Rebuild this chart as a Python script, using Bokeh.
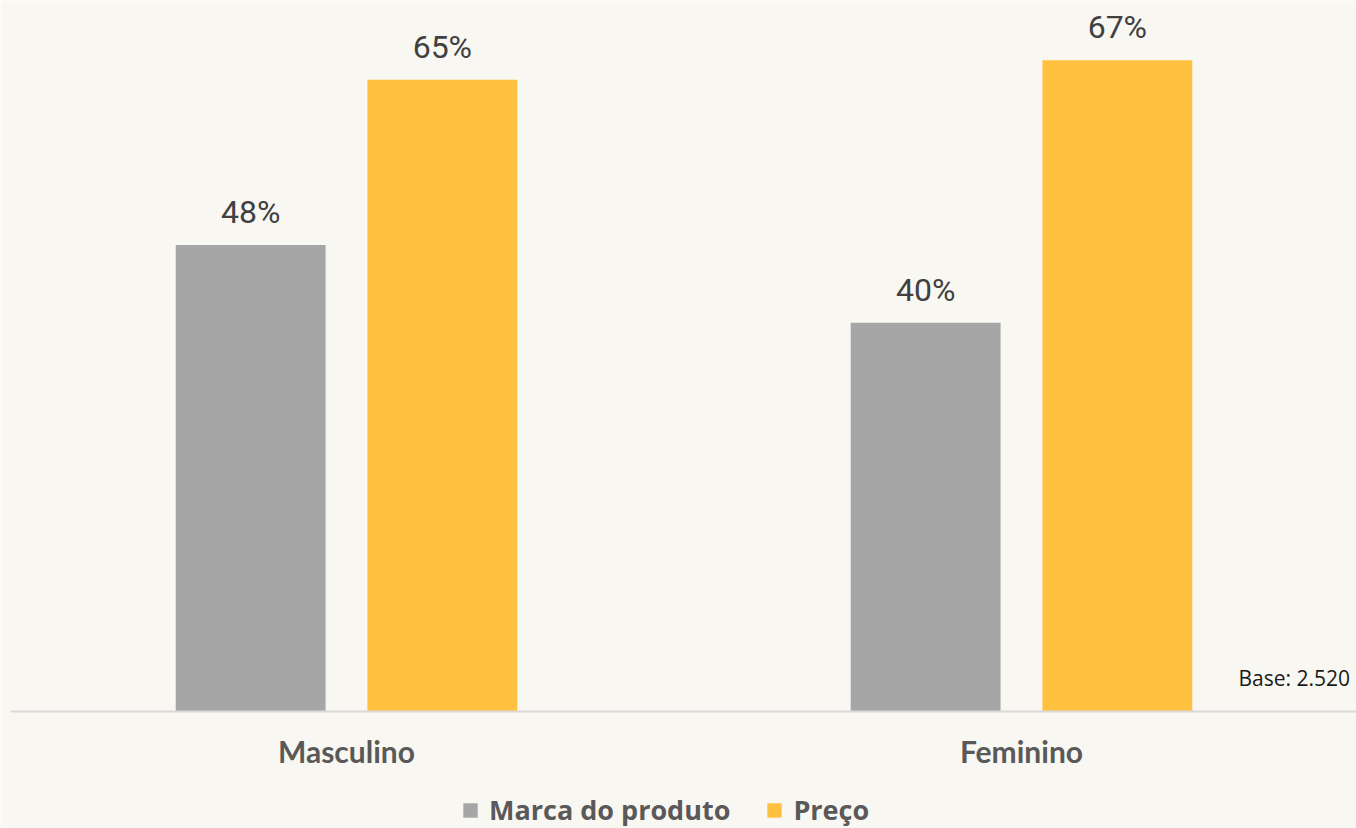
from bokeh.plotting import figure
from bokeh.models import (Range1d, FixedTicker, Legend, LegendItem, Label, ColumnDataSource)
from bokeh.transform import dodge
from bokeh.core.properties import value
from bokeh.embed import file_html
from bokeh.resources import INLINE

categories = ["Masculino", "Feminino"]
marca = [48, 40]
preco = [65, 67]
base_note = "Base: 2.520"

BG = "#F9F7F2"
GREY = "#A6A6A6"
YELLOW = "#FFC13F"

xs = list(range(len(categories)))
src = ColumnDataSource(dict(
    x=xs, marca=marca, preco=preco,
    marca_lbl=[f"{v}%" for v in marca],
    preco_lbl=[f"{v}%" for v in preco],
))

p = figure(width=1356, height=828, output_backend="svg", toolbar_location=None,
           x_range=Range1d(-0.5126, 1.4963), y_range=Range1d(-12.04, 73.15),
           min_border_left=0, min_border_right=0, min_border_top=0, min_border_bottom=0)
p.background_fill_color = BG
p.border_fill_color = BG
p.outline_line_color = None
p.grid.visible = False
p.yaxis.visible = False

off = 0.142
w = 0.222
r1 = p.vbar(x=dodge("x", -off), top="marca", width=w, source=src,
            fill_color=GREY, line_color=None)
r2 = p.vbar(x=dodge("x", off), top="preco", width=w, source=src,
            fill_color=YELLOW, line_color=None)

for col, lbl in (("marca", "marca_lbl"), ("preco", "preco_lbl")):
    p.text(x=dodge("x", -off if col == "marca" else off), y=col, text=lbl, source=src,
           text_align="center", text_baseline="alphabetic", y_offset=-33,
           text_font=value("Roboto"), text_font_size="32px", text_color="#404040")

ax = p.xaxis[0]
ax.fixed_location = 0
ax.bounds = (-0.4978, 1.4963)
ax.ticker = FixedTicker(ticks=xs)
ax.major_label_overrides = {i: c for i, c in zip(xs, categories)}
ax.axis_line_color = "#D9D9D9"
ax.axis_line_width = 2
ax.major_tick_line_color = None
ax.minor_tick_line_color = None
ax.major_label_standoff = 16
ax.major_label_text_font = "Lato"
ax.major_label_text_font_style = "bold"
ax.major_label_text_font_size = "30px"
ax.major_label_text_color = "#595959"

note = Label(x=1.3215, y=3.4, text=base_note, text_baseline="middle",
             text_font="Open Sans", text_font_size="21px", text_color="#1A1A1A")
p.add_layout(note)

legend = Legend(items=[LegendItem(label="Marca do produto", renderers=[r1]),
                       LegendItem(label="Preço", renderers=[r2])],
                orientation="horizontal", location=(461, 0),
                background_fill_alpha=0, border_line_color=None,
                label_text_font="Open Sans", label_text_font_style="bold",
                label_text_font_size="27px", label_text_color="#595959",
                glyph_width=18, glyph_height=18, label_standoff=10, spacing=35,
                padding=0, margin=0)
p.add_layout(legend, "center")

open("out.html", "w").write(file_html(p, INLINE))
